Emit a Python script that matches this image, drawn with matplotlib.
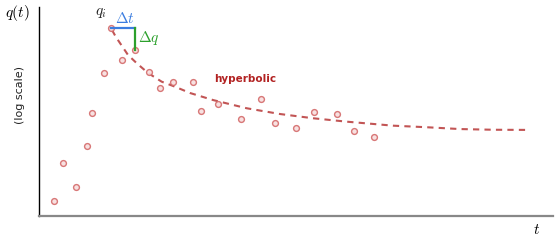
import matplotlib
matplotlib.use("Agg")
import matplotlib.pyplot as plt

plt.rcParams['mathtext.fontset'] = 'cm'

# observed rates (t, q) - log scale on q
t_obs = [15, 24, 37, 48, 53, 65, 72, 83, 96, 110, 121, 134, 154, 162, 179,
         202, 222, 236, 257, 275, 298, 315, 335]
q_obs = [1.64, 5.7, 2.6, 10.1, 30.4, 112, 505, 172, 241, 118, 68.7, 83.8, 83.8,
         32.5, 40.5, 24.4, 47.3, 21.6, 18.5, 31.4, 28.8, 16.8, 13.5]

# hyperbolic decline curve
t_fit = [73, 76.7, 83, 89, 97.7, 109, 122.7, 136, 151, 174, 207.7, 241, 274,
         307.7, 354, 387.7, 421, 454, 491]
q_fit = [468, 375, 275, 205, 156, 113, 84.7, 71.8, 58.3, 46.2, 35.2, 29.1, 25.3,
         22.6, 19.8, 18.8, 17.7, 17.3, 17.2]

# qi and the next point used for delta annotation
qi_idx = 6
next_idx = 8

fig = plt.figure(figsize=(5.6, 2.42), dpi=100)
ax = fig.add_axes([39/560, 1-216/242, (553-39)/560, (216-7)/242])
ax.set_yscale('log')
ax.set_xlim(0, 514)
ax.set_ylim(1, 1000)

ax.plot(t_fit, q_fit, color='#c25555', lw=1.5, dashes=(3, 2.5), zorder=2)
ax.plot(t_obs, q_obs, 'o', ms=4.2, mfc='#f7dede', mec='#d46a6a', mew=1.0,
        alpha=0.9, zorder=3)

t0, q0 = t_obs[qi_idx], q_obs[qi_idx]
t1, q1 = t_obs[next_idx], q_obs[next_idx]
ax.plot([t0, t1], [q0, q0], color='#3b7de0', lw=1.6, zorder=4)
ax.plot([t1, t1], [q0, q1], color='#2ca02c', lw=1.6, zorder=4)

ax.text(t0 - 10, q0 * 1.28, r'$q_i$', fontsize=11, ha='center', va='bottom', color='#222222')
ax.text((t0 + t1) / 2 + 2, q0 * 1.05, r'$\Delta t$', fontsize=11, ha='center',
        va='bottom', color='#3b7de0')
ax.text(t1 + 3, q0 * 0.72, r'$\Delta q$', fontsize=11, ha='left', va='center',
        color='#2ca02c')
ax.text(175, 93, 'hyperbolic', fontsize=7.5, fontweight='bold', color='#b22222',
        ha='left', va='center')

for s in ['top', 'right']:
    ax.spines[s].set_visible(False)
ax.spines['left'].set_color('black')
ax.spines['left'].set_linewidth(1.0)
ax.spines['bottom'].set_color('#888888')
ax.spines['bottom'].set_linewidth(1.6)
ax.set_xticks([])
ax.set_yticks([])
ax.yaxis.set_minor_locator(matplotlib.ticker.NullLocator())

fig.text(17/560, 1-13/242, r'$q(t)$', fontsize=11, ha='center', va='center')
fig.text(20/560, 1-95/242, '(log scale)', fontsize=8, rotation=90,
         ha='center', va='center', color='#222222')
fig.text(537/560, 1-230/242, r'$t$', fontsize=11, ha='center', va='center')

fig.savefig('out.png', dpi=100)
